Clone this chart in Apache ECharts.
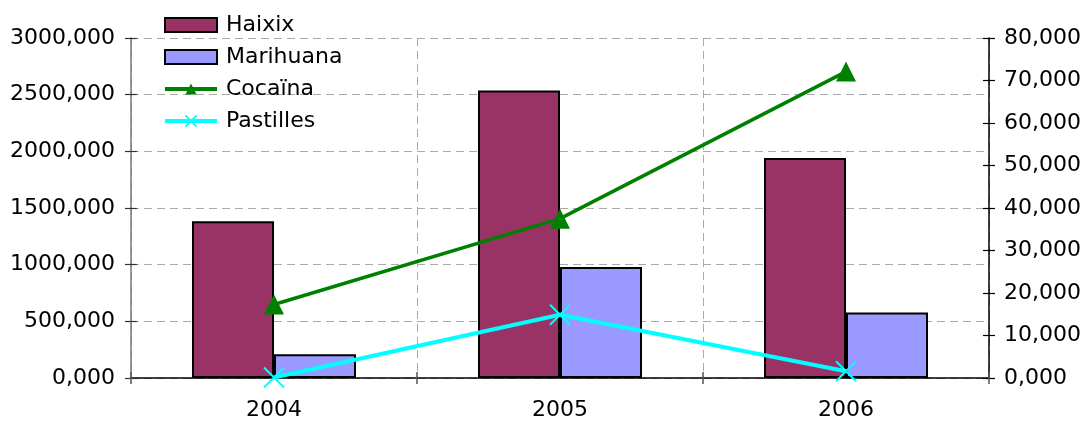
<!DOCTYPE html>
<html><head><meta charset="utf-8">
<script src="https://cdn.jsdelivr.net/npm/echarts@6/dist/echarts.min.js"></script>
<style>html,body{margin:0;padding:0;background:#fff}#c{width:1086px;height:421px}</style>
</head><body><div id="c"></div>
<script>
const categories = ['2004', '2005', '2006'];
const haixix = [1382, 2536, 1942];
const marihuana = [210, 979, 577];
const cocaina = [17.3, 37.5, 72.1];
const pastilles = [0.1, 14.9, 1.6];

const FONT = 'DejaVu Sans';
const FS = 22;
const fmt = v => v.toFixed(3).replace('.', ',');
const chart = echarts.init(document.getElementById('c'));
const xPath = 'path://M0,0L10,10M10,0L0,10';
const baseY = (extra) => Object.assign({
  type: 'value', min: 0, max: 3000, interval: 500, position: 'left'
}, extra);
chart.setOption({
  animation: false,
  textStyle: { fontFamily: FONT },
  grid: { left: 131, right: 97, top: 38, bottom: 40 },
  legend: {
    orient: 'vertical', left: 163, top: 14, padding: 0,
    itemWidth: 52, itemHeight: 14, itemGap: 10,
    textStyle: { fontFamily: FONT, fontSize: FS, color: '#000', lineHeight: 22, padding: [0, 0, 0, 4] },
    data: [
      { name: 'Haixix', icon: 'rect' },
      { name: 'Marihuana', icon: 'rect' },
      { name: 'Cocaïna', lineStyle: { width: 4 } },
      { name: 'Pastilles', lineStyle: { width: 4 } }
    ]
  },
  xAxis: [{
    type: 'category', data: categories,
    axisLine: { lineStyle: { color: '#000', width: 1.5 } },
    axisTick: { show: true, length: 6, lineStyle: { color: '#555', width: 1.5 } },
    axisLabel: { fontFamily: FONT, fontSize: FS, color: '#000', margin: 21 },
    splitLine: { show: true, lineStyle: { color: '#aaa', type: [8, 5], width: 1 } }
  }, {
    type: 'category', data: categories, position: 'bottom',
    axisLine: { show: false },
    axisTick: { show: true, inside: true, length: 6, lineStyle: { color: '#555', width: 1.5 } },
    axisLabel: { show: false }, splitLine: { show: false }
  }],
  yAxis: [
    baseY({
      axisLine: { show: true, lineStyle: { color: '#777', width: 1.5 } },
      axisTick: { show: true, length: 6, lineStyle: { color: '#333', width: 1.2 } },
      axisLabel: { fontFamily: FONT, fontSize: FS, color: '#000', margin: 16, formatter: fmt },
      splitLine: { show: true, lineStyle: { color: '#aaa', type: [8, 5], width: 1 } }
    }),
    {
      type: 'value', min: 0, max: 80, interval: 10, position: 'right',
      axisLine: { show: true, lineStyle: { color: '#000', width: 1.5 } },
      axisTick: { show: true, length: 6, lineStyle: { color: '#000', width: 1.2 } },
      axisLabel: { fontFamily: FONT, fontSize: FS, color: '#000', margin: 15, formatter: fmt },
      splitLine: { show: false }
    },
    baseY({
      axisLine: { show: false },
      axisTick: { show: true, inside: true, length: 6, lineStyle: { color: '#333', width: 1.2 } },
      axisLabel: { show: false }, splitLine: { show: false }
    }),
    {
      type: 'value', min: 0, max: 80, interval: 10, position: 'right',
      axisLine: { show: false },
      axisTick: { show: true, inside: true, length: 6, lineStyle: { color: '#000', width: 1.2 } },
      axisLabel: { show: false }, splitLine: { show: false }
    }
  ],
  series: [
    { name: 'Haixix', type: 'bar', data: haixix, barWidth: 82, barGap: '0%',
      itemStyle: { color: '#993366', borderColor: '#000', borderWidth: 2 } },
    { name: 'Marihuana', type: 'bar', data: marihuana, barWidth: 82, barGap: '0%',
      itemStyle: { color: '#9999FF', borderColor: '#000', borderWidth: 2 } },
    { name: 'Cocaïna', type: 'line', yAxisIndex: 1, data: cocaina,
      symbol: 'triangle', symbolSize: 20, showAllSymbol: true,
      lineStyle: { color: '#008000', width: 3.5 },
      itemStyle: { color: '#008000', borderColor: '#008000', borderWidth: 0 } },
    { name: 'Pastilles', type: 'line', yAxisIndex: 1, data: pastilles,
      symbol: xPath, symbolSize: 20, showAllSymbol: true,
      lineStyle: { color: '#00FFFF', width: 4 },
      itemStyle: { color: '#00FFFF', borderColor: '#00FFFF', borderWidth: 2 } }
  ]
});
</script></body></html>
